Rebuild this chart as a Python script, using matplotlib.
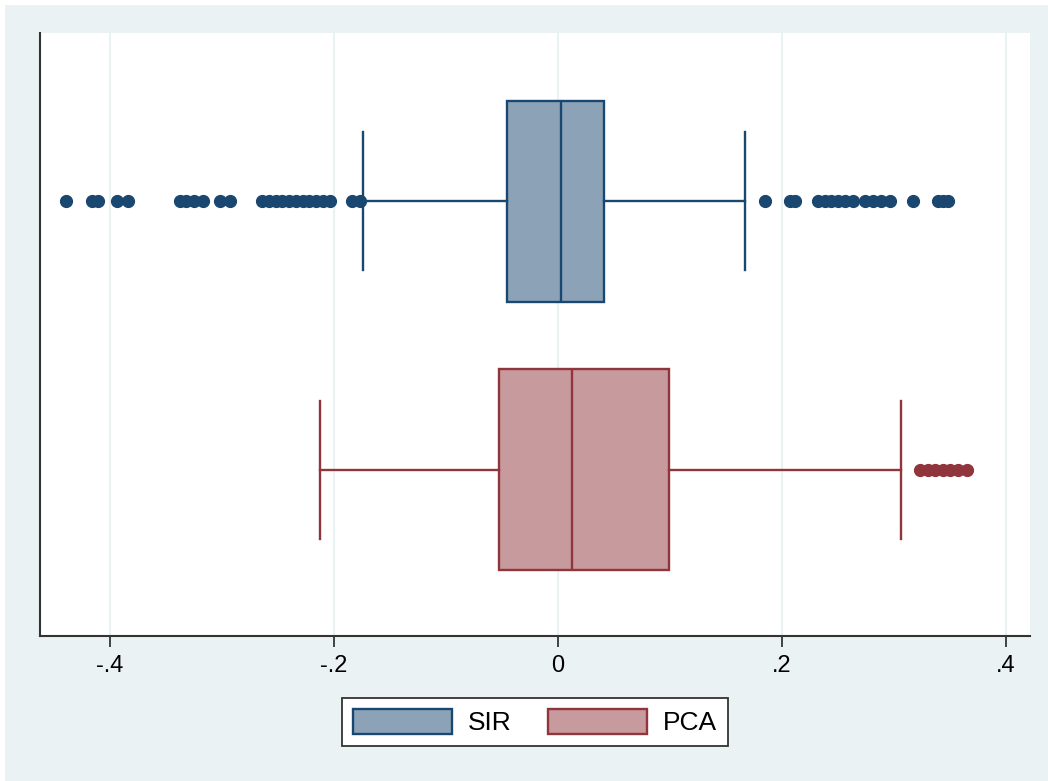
import numpy as np
import matplotlib.pyplot as plt
from matplotlib.patches import Patch, Rectangle

plt.rcParams['font.family'] = ['Liberation Sans', 'DejaVu Sans']

# box statistics
groups = ['SIR', 'PCA']
q1 = [-0.0455, -0.0527]
med = [0.0027, 0.0125]
q3 = [0.041, 0.099]
whislo = [-0.174, -0.2125]
whishi = [0.167, 0.306]

sir_outliers = [-0.439, -0.4165, -0.411, -0.394, -0.384,
                -0.3375, -0.332, -0.325, -0.317, -0.302, -0.293,
                -0.264, -0.258, -0.252, -0.246, -0.240, -0.234, -0.228,
                -0.222, -0.216, -0.210, -0.204, -0.184, -0.177,
                0.185, 0.207, 0.212, 0.232, 0.238, 0.244, 0.250, 0.256, 0.263,
                0.274, 0.281, 0.288, 0.296, 0.317, 0.339, 0.344, 0.348]
pca_outliers = [0.323, 0.330, 0.337, 0.344, 0.350, 0.357, 0.365]

tick_vals = [-0.4, -0.2, 0, 0.2, 0.4]
tick_labels = ['-.4', '-.2', '0', '.2', '.4']

edge_colors = ['#1a476f', '#90353b']
fill_colors = ['#8ca3b7', '#c79a9d']
bg = '#eaf2f3'

stats = []
for i, g in enumerate(groups):
    stats.append(dict(label=g, q1=q1[i], med=med[i], q3=q3[i],
                      whislo=whislo[i], whishi=whishi[i],
                      fliers=[sir_outliers, pca_outliers][i]))

fig = plt.figure(figsize=(10.48, 7.81), dpi=100)
fig.patch.set_facecolor('white')
fig.patches.append(Rectangle((5 / 1048, 0), 1 - 5 / 1048, 1 - 5 / 781,
                             transform=fig.transFigure, facecolor=bg,
                             edgecolor='none', zorder=-10))

ax = fig.add_axes([40 / 1048, 1 - 636 / 781, 990 / 1048, 603 / 781])
ax.set_facecolor('white')

positions = [2, 1]
for i in range(2):
    ax.bxp([stats[i]], positions=[positions[i]], vert=False, widths=0.75,
           patch_artist=True, showfliers=True,
           boxprops=dict(facecolor=fill_colors[i], edgecolor=edge_colors[i], linewidth=1.7),
           medianprops=dict(color=edge_colors[i], linewidth=1.7),
           whiskerprops=dict(color=edge_colors[i], linewidth=1.7),
           capprops=dict(color=edge_colors[i], linewidth=1.7),
           capwidths=0.515,
           flierprops=dict(marker='o', markersize=8.5, markerfacecolor=edge_colors[i],
                           markeredgecolor=edge_colors[i], linestyle='none'))

ax.set_xlim(-0.4625, 0.4214)
ax.set_ylim(0.381, 2.627)
ax.set_yticks([])
ax.set_xticks(tick_vals)
ax.set_xticklabels(tick_labels, fontsize=17)
ax.tick_params(axis='x', length=8, width=1.3, color='#333333', pad=6)
ax.grid(axis='x', color=bg, linewidth=1.6, zorder=0)
ax.set_axisbelow(True)
for s in ['top', 'right']:
    ax.spines[s].set_visible(False)
for s in ['left', 'bottom']:
    ax.spines[s].set_color('#333333')
    ax.spines[s].set_linewidth(1.5)

handles = [Patch(facecolor=fill_colors[i], edgecolor=edge_colors[i], linewidth=1.7, label=groups[i])
           for i in range(2)]
leg = fig.legend(handles=handles, loc='center', bbox_to_anchor=(535 / 1048, 1 - 722 / 781),
                 ncol=2, fontsize=19, frameon=True, fancybox=False, framealpha=1,
                 handlelength=3.75, handleheight=1.1, columnspacing=1.4,
                 handletextpad=0.6, borderpad=0.4, edgecolor='#333333')
leg.get_frame().set_linewidth(1.3)

fig.savefig('out.png', dpi=100)
